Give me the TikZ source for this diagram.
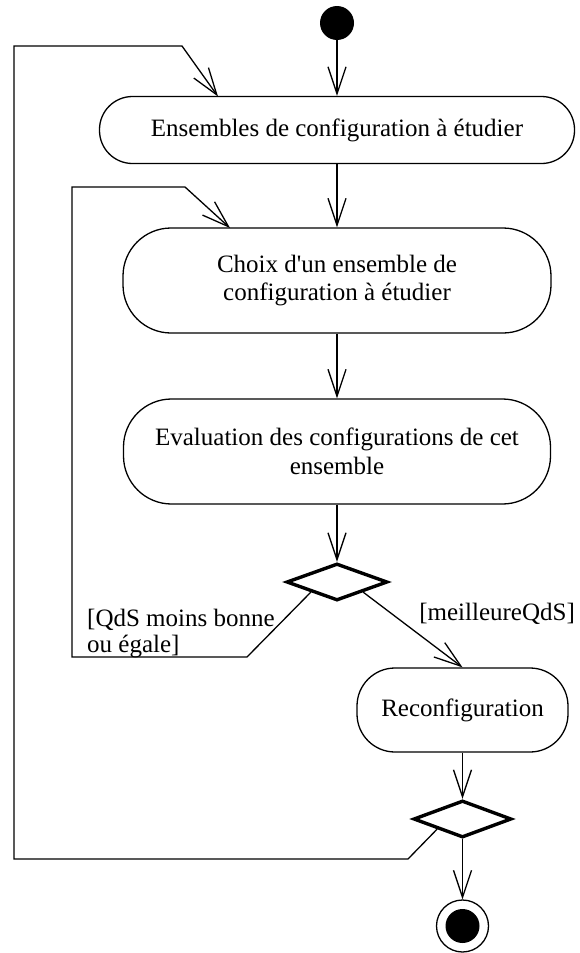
\documentclass[tikz,border=0pt]{standalone}
\usepackage{fontspec}
\setmainfont{Liberation Serif}[Ligatures=TeXOff]
\usetikzlibrary{arrows.meta,shapes.geometric}
\begin{document}
\begin{tikzpicture}[x=1pt,y=-1pt,
  txt/.style={font=\fontsize{25}{28.5}\selectfont},
  ln/.style={line width=1.3pt, draw=black, line join=miter},
  arr/.style={ln, -{Straight Barb[length=27pt,width=18pt]}},
  act/.style={txt, draw, line width=1.3pt, rectangle, align=center, inner sep=0pt},
  dec/.style={draw, line width=3.4pt, diamond, inner sep=0pt, minimum height=37pt},
  lbl/.style={txt, inner sep=0pt},
]
\useasboundingbox (0,0) rectangle (579,953);

% nodes
\node[circle, fill=black, inner sep=0pt, minimum size=34pt] (start) at (337,23) {};
\node[act, minimum width=475pt, minimum height=67pt, rounded corners=33pt] (b1) at (337,130)
  {Ensembles de configuration à étudier};
\node[act, minimum width=428pt, minimum height=105pt, rounded corners=48pt] (b2) at (337,280.5)
  {Choix d'un ensemble de\\configuration à étudier};
\node[act, minimum width=427pt, minimum height=105pt, rounded corners=48pt] (b3) at (337,451.5)
  {Evaluation des configurations de cet\\ensemble};
\node[dec, minimum width=101pt] (d1) at (337,582) {};
\node[act, minimum width=211pt, minimum height=84pt, rounded corners=38pt] (rec) at (462.5,710)
  {Reconfiguration};
\node[dec, minimum width=98pt] (d2) at (462.5,819) {};
\node[circle, draw, line width=1.3pt, inner sep=0pt, minimum size=52pt] (end) at (462.5,926) {};
\fill (end.center) circle (17pt);

% labels
\node[lbl, anchor=base west] (g1a) at (87,626) {[QdS moins bonne};
\node[lbl, anchor=base west] (g1b) at (87,652) {ou égale]};
\node[lbl, anchor=base east] (g2) at (575,620) {[meilleureQdS]};

% route points
\coordinate (c1) at (247,657);
\coordinate (c2) at (72,657);
\coordinate (c3) at (72,187);
\coordinate (c4) at (185,187);
\coordinate (b2in) at (230,228);
\coordinate (o1) at (408,859);
\coordinate (o2) at (14,859);
\coordinate (o3) at (14,46);
\coordinate (o4) at (182,46);
\coordinate (b1in) at (218,96.5);

% connectors
\draw[arr] (start) -- (b1.north);
\draw[arr] (b1) -- (b2);
\draw[arr] (b2) -- (b3);
\draw[arr] (b3) -- (d1.north);
\draw[arr] (d1.south east) -- (rec.north);
\draw[arr] (rec) -- (d2.north);
\draw[arr] (d2.south) -- (end);
\draw[arr] (d1.south west) -- (c1) -- (c2) -- (c3) -- (c4) -- (b2in);
\draw[arr] (d2.south west) -- (o1) -- (o2) -- (o3) -- (o4) -- (b1in);
\end{tikzpicture}
\end{document}
